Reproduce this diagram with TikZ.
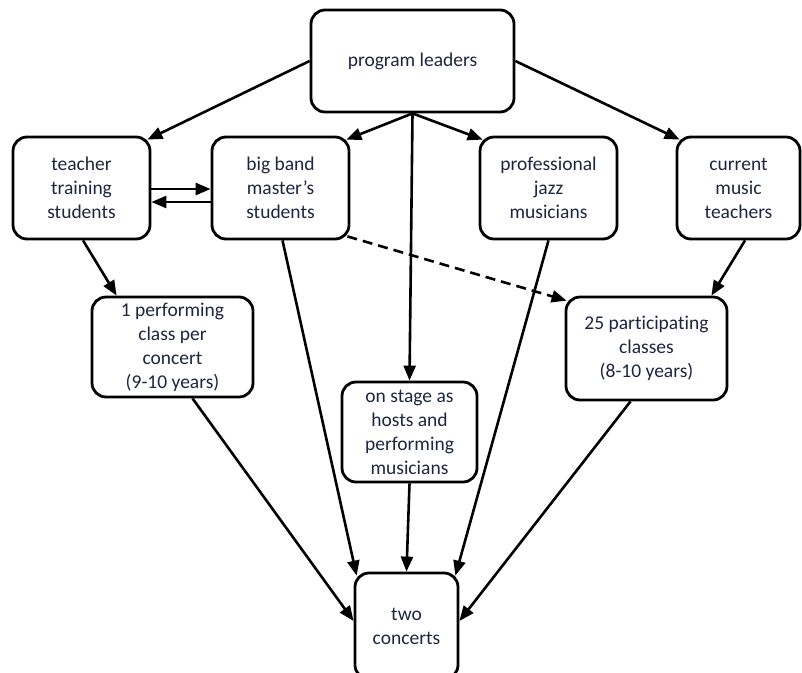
\documentclass[tikz,border=0pt]{standalone}
\usepackage{fontspec}
\setmainfont{Carlito}[Ligatures={NoCommon}]
\usetikzlibrary{arrows.meta,calc}
\definecolor{txt}{RGB}{28,38,64}
\begin{document}
\begin{tikzpicture}[x=1pt,y=-1pt,
  box/.style={draw=black, line width=2.8pt, rounded corners=14pt, align=center, text=txt,
    font=\fontsize{19.5}{24}\selectfont, inner sep=0pt, fill=white},
  conn/.style={line width=2.6pt, -{Triangle[length=15pt,width=12pt]}},
  dashconn/.style={conn, dash pattern=on 10pt off 6pt},
]
\clip (0,0) rectangle (802,672);
\node[box, minimum width=203pt, minimum height=102pt] (pl) at (412.5,61) {\raisebox{-2pt}{program leaders}};
\node[box, minimum width=137pt, minimum height=102pt] (tt) at (81.5,188) {teacher\\training\\students};
\node[box, minimum width=137pt, minimum height=102pt] (bb) at (280.5,188) {big band\\master’s\\students};
\node[box, minimum width=137pt, minimum height=102pt] (pj) at (548.5,188) {professional\\jazz\\musicians};
\node[box, minimum width=123pt, minimum height=102pt] (cm) at (738.5,188) {current\\music\\teachers};
\node[box, minimum width=161pt, minimum height=100pt] (pc) at (172.5,347) {1 performing\\class per\\concert\\(9-10 years)};
\node[box, minimum width=161pt, minimum height=103pt] (pp) at (646.5,348.5) {25 participating\\classes\\(8-10 years)};
\node[box, minimum width=135pt, minimum height=100pt] (os) at (409.5,432) {on stage as\\hosts and\\performing\\musicians};
\node[box, minimum width=103pt, minimum height=106pt] (tc) at (406.5,626) {two\\concerts};

\draw[conn] (pl.west) -- ($(tt.north east)+(-4,4)$);
\draw[conn] (pl.south) -- ($(bb.north east)+(-4,4)$);
\draw[conn] (pl.south) -- (os.north);
\draw[conn] (pl.south) -- ($(pj.north west)+(4,4)$);
\draw[conn] (pl.east) -- ($(cm.north west)+(4,4)$);
\draw[conn] ($(tt.east)+(0,1)$) -- ($(bb.west)+(0,1)$);
\draw[conn] ($(bb.west)+(0,14)$) -- ($(tt.east)+(0,14)$);
\draw[conn] ($(tt.south)+(1.5,0)$) -- ($(pc.north west)+(26,0)$);
\draw[dashconn] ($(bb.south east)+(-3,-4)$) -- ($(pp.north west)+(2,5)$);
\draw[conn] ($(cm.south)+(6.5,0)$) -- ($(pp.north east)+(-17,0)$);
\draw[conn] ($(pc.south)+(20,0)$) -- ($(tc.west)+(0,-5)$);
\draw[conn] ($(bb.south)+(2,0)$) -- ($(tc.north west)+(3,4)$);
\draw[conn] (os.south) -- (tc.north);
\draw[conn] (pj.south) -- ($(tc.north east)+(-4,4)$);
\draw[conn] ($(pp.south)+(-16,0)$) -- ($(tc.east)+(0,-5)$);
\end{tikzpicture}
\end{document}
